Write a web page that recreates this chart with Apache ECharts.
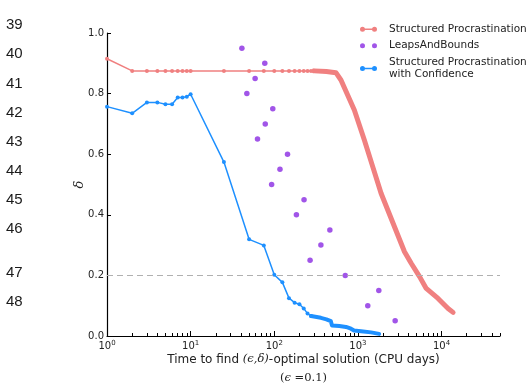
<!DOCTYPE html>
<html>
<head>
<meta charset="utf-8">
<script src="https://cdn.jsdelivr.net/npm/echarts@6/dist/echarts.min.js"></script>
<style>
  html, body { margin: 0; padding: 0; background: #fff; }
  #main { width: 529px; height: 383px; }
</style>
</head>
<body>
<div id="main"></div>
<script>
// Structured Procrastination: thin part with markers, then the dense part (thick)
const spX = [1, 2, 3, 4, 5, 6, 7, 8, 9, 10, 25, 50, 75, 100, 125, 150, 175, 200, 225, 250, 275, 300];
const spY = [0.915, 0.875, 0.875, 0.875, 0.875, 0.875, 0.875, 0.875, 0.875, 0.875, 0.875, 0.875, 0.875, 0.875, 0.875, 0.875, 0.875, 0.875, 0.875, 0.875, 0.875, 0.875];
const spTailX = [300, 420, 546, 627, 906, 1194, 1503, 1892, 2275, 3606, 4335, 5458, 6561, 9078, 11967, 13740];
const spTailY = [0.875, 0.873, 0.869, 0.845, 0.746, 0.647, 0.559, 0.471, 0.416, 0.278, 0.240, 0.196, 0.157, 0.124, 0.091, 0.078];

// LeapsAndBounds
const lbX = [41, 77, 59, 47, 96, 78, 63, 144, 117, 93, 227, 184, 462, 361, 268, 706, 1778, 1312, 2788];
const lbY = [0.95, 0.90, 0.85, 0.80, 0.75, 0.70, 0.65, 0.60, 0.55, 0.50, 0.45, 0.40, 0.35, 0.30, 0.25, 0.20, 0.15, 0.10, 0.05];

// Structured Procrastination with Confidence
const spcX = [1, 2, 3, 4, 5, 6, 7, 8, 9, 10, 25, 50, 75, 100, 125, 150, 175, 200, 225, 250, 275];
const spcY = [0.757, 0.735, 0.771, 0.771, 0.765, 0.765, 0.787, 0.787, 0.790, 0.798, 0.574, 0.319, 0.299, 0.202, 0.177, 0.125, 0.110, 0.105, 0.091, 0.074, 0.066];
const spcTailX = [275, 289, 361, 420, 475, 490, 600, 720, 826, 898, 1089, 1437, 1792];
const spcTailY = [0.066, 0.064, 0.060, 0.055, 0.049, 0.035, 0.033, 0.030, 0.024, 0.018, 0.016, 0.012, 0.007];

const majorTicks = [1, 10, 100, 1000, 10000];
const yTicks = [0, 0.2, 0.4, 0.6, 0.8, 1.0];
const threshold = 0.2;

const SP = 'Structured Procrastination';
const LB = 'LeapsAndBounds';
const SPC = 'Structured Procrastination\nwith Confidence';
const red = '#f08080', purple = '#8a2be2', blue = '#1e90ff';

const pairs = (xs, ys) => xs.map((x, i) => [x, ys[i]]);

// minor tick positions 2..9 per decade
const minorTicks = [];
for (const d of [1, 10, 100, 1000, 10000]) {
  for (let k = 2; k <= 9; k++) {
    if (d * k <= 50000) minorTicks.push(d * k);
  }
}

const lineIcon = 'path://M0,6A5,5,0,1,1,10,6A5,5,0,1,1,0,6Z M24,6A5,5,0,1,1,34,6A5,5,0,1,1,24,6Z M5,4.5L29,4.5L29,7.5L5,7.5Z';
const dotsIcon = 'path://M0,6A5,5,0,1,1,10,6A5,5,0,1,1,0,6Z M24,6A5,5,0,1,1,34,6A5,5,0,1,1,24,6Z';

const chart = echarts.init(document.getElementById('main'));

const lineNums = ['39', '40', '41', '42', '43', '44', '45', '46', '47', '48'];
const lineNumTop = [24, 53, 83, 112, 141, 170, 199, 228, 272, 301];

const option = {
  animation: false,
  grid: { left: 107, right: 29, top: 33, bottom: 47, outerBoundsMode: 'none' },
  graphic: lineNums.map((t, i) => ({
    type: 'text',
    left: 6,
    top: lineNumTop[i] - 7,
    style: { text: t, fontSize: 15, fontFamily: 'Liberation Sans', fill: '#1a1a1a' }
  })),
  legend: {
    orient: 'vertical',
    left: 360,
    top: 23,
    padding: 0,
    itemWidth: 17,
    itemHeight: 5,
    itemGap: 4,
    textStyle: { fontSize: 10.5, fontFamily: 'DejaVu Sans', color: '#222', lineHeight: 12.5, padding: [0, 0, 0, 7] },
    data: [
      { name: SP, icon: lineIcon, itemStyle: { color: red, borderWidth: 0 } },
      { name: LB, icon: dotsIcon, itemStyle: { color: purple, borderWidth: 0 } },
      { name: SPC, icon: lineIcon, itemStyle: { color: blue, borderWidth: 0 } }
    ]
  },
  xAxis: [
    {
      type: 'log',
      logBase: 10,
      min: 1,
      max: 50000,
      name: 'Time to find {m|(ϵ,δ)}-optimal solution (CPU days)\n{e|(}{m|ϵ}{e| =0.1)}',
      nameLocation: 'middle',
      nameGap: 14,
      nameMoveOverlap: false,
      nameTextStyle: {
        fontSize: 12,
        fontFamily: 'DejaVu Sans',
        color: '#222',
        lineHeight: 19,
        rich: {
          m: { fontFamily: 'DejaVu Serif', fontStyle: 'italic', fontSize: 11.5, color: '#222', lineHeight: 19 },
          e: { fontFamily: 'DejaVu Serif', fontSize: 11.5, color: '#222', lineHeight: 19 }
        }
      },
      axisLine: { lineStyle: { color: '#000', width: 1.2 } },
      axisTick: { inside: true, length: 5, customValues: majorTicks, lineStyle: { color: '#000' } },
      axisLabel: {
        customValues: majorTicks,
        margin: 4,
        formatter: v => '{b|10}{s|' + Math.round(Math.log10(v)) + '}',
        rich: {
          b: { fontSize: 10, fontFamily: 'DejaVu Sans', color: '#222', lineHeight: 12 },
          s: { fontSize: 7, fontFamily: 'DejaVu Sans', color: '#222', verticalAlign: 'top' }
        }
      },
      splitLine: { show: false }
    },
    {
      type: 'log',
      logBase: 10,
      min: 1,
      max: 50000,
      position: 'bottom',
      axisLine: { show: false },
      axisTick: { inside: true, length: 3, customValues: minorTicks, lineStyle: { color: '#000' } },
      axisLabel: { show: false },
      splitLine: { show: false }
    }
  ],
  yAxis: {
    type: 'value',
    min: 0,
    max: 1,
    interval: 0.2,
    name: 'δ',
    nameLocation: 'middle',
    nameGap: 21,
    nameMoveOverlap: false,
    nameRotate: 90,
    nameTextStyle: { fontFamily: 'DejaVu Serif', fontStyle: 'italic', fontSize: 13, color: '#222' },
    axisLine: { show: true, lineStyle: { color: '#000', width: 1.2 } },
    axisTick: { show: true, inside: true, length: 4, lineStyle: { color: '#000' } },
    axisLabel: {
      margin: 3,
      fontSize: 10,
      fontFamily: 'DejaVu Sans',
      color: '#222',
      formatter: v => (yTicks.some(t => Math.abs(t - v) < 1e-9) ? v.toFixed(1) : '')
    },
    splitLine: { show: false }
  },
  series: [
    {
      name: SP,
      type: 'line',
      data: pairs(spX, spY),
      symbol: 'circle',
      symbolSize: 4,
      showAllSymbol: true,
      itemStyle: { color: red },
      lineStyle: { color: red, width: 1.5 },
      z: 2
    },
    {
      name: SP,
      type: 'line',
      data: pairs(spTailX, spTailY),
      symbol: 'none',
      itemStyle: { color: red },
      lineStyle: { color: red, width: 5, cap: 'round', join: 'round' },
      z: 2
    },
    {
      name: LB,
      type: 'scatter',
      data: pairs(lbX, lbY),
      symbol: 'circle',
      symbolSize: 5.5,
      itemStyle: { color: purple },
      markLine: {
        silent: true,
        symbol: 'none',
        label: { show: false },
        lineStyle: { color: '#b0b0b0', type: [6, 4], width: 1 },
        data: [{ yAxis: threshold }]
      },
      z: 3
    },
    {
      name: SPC,
      type: 'line',
      data: pairs(spcX, spcY),
      symbol: 'circle',
      symbolSize: 4,
      showAllSymbol: true,
      itemStyle: { color: blue },
      lineStyle: { color: blue, width: 1.5 },
      z: 4
    },
    {
      name: SPC,
      type: 'line',
      data: pairs(spcTailX, spcTailY),
      symbol: 'none',
      itemStyle: { color: blue },
      lineStyle: { color: blue, width: 4, cap: 'round', join: 'round' },
      z: 4
    }
  ]
};

chart.setOption(option);
</script>
</body>
</html>
